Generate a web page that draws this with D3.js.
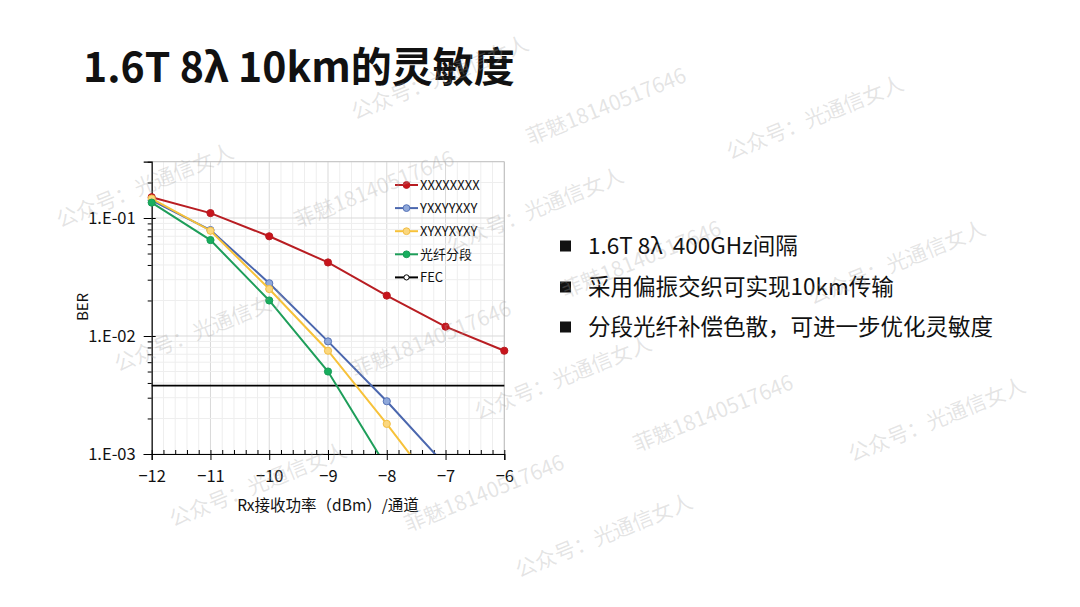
<!DOCTYPE html>
<html><head><meta charset="utf-8">
<script src="https://cdn.jsdelivr.net/npm/d3@7"></script>
<style>
html,body{margin:0;padding:0;background:#fff;}
svg{display:block;}
text{font-family:"Noto Sans CJK SC","Noto Sans",sans-serif;}
</style></head>
<body><svg id="c" width="1080" height="607"></svg>
<script>
// ---------------- data ----------------
const power = [-12, -11, -10, -9, -8, -7, -6];
const serX = [0.15, 0.11, 0.07, 0.042, 0.022, 0.012, 0.0075];          // XXXXXXXX
const serY = [0.141, 0.079, 0.028, 0.009, 0.0028, 0.0008];             // YXXYYXXY
const serXY = [0.146, 0.078, 0.025, 0.0075, 0.0018, 0.0004];           // XYXYXYXY
const serSeg = [0.135, 0.065, 0.02, 0.005, 0.00077];                   // 光纤分段
const fecLevel = 0.0038;
const seriesNames = ["XXXXXXXX", "YXXYYXXY", "XYXYXYXY", "光纤分段", "FEC"];
const xTickValues = [-12, -11, -10, -9, -8, -7, -6];
const yTickValues = [0.001, 0.01, 0.1];
const yTickLabels = ["1.E-03", "1.E-02", "1.E-01"];
const titleText = "1.6T 8λ 10km的灵敏度";
const bulletTexts = ["1.6T 8λ  400GHz间隔", "采用偏振交织可实现10km传输", "分段光纤补偿色散，可进一步优化灵敏度"];
const xTitle = "Rx接收功率（dBm）/通道";
const yTitle = "BER";
const wmA = "公众号：光通信女人";
const wmB = "菲魅18140517646";

// ---------------- layout ----------------
const svg = d3.select("#c");
const L = 151.7, R = 504.3, T = 161.7, B = 454;
const x = d3.scaleLinear().domain([-12, -6]).range([L, R]);
const y = d3.scaleLog().domain([0.001, 0.3]).range([B, T]);

svg.append("rect").attr("width", 1080).attr("height", 607).attr("fill", "#fff");

// title
svg.append("text").attr("x", 83).attr("y", 82).attr("font-size", 41).attr("font-weight", 700)
  .attr("fill", "#111").text(titleText);

// grid
const g = svg.append("g");
const minorX = d3.range(0, 31).map(i => -12 + i * 0.2);
g.selectAll("line.vx").data(minorX).join("line")
  .attr("x1", d => x(d)).attr("x2", d => x(d)).attr("y1", T).attr("y2", B)
  .attr("stroke", d => Math.abs(d - Math.round(d)) < 1e-6 ? "#d9d9d9" : "#eeeeee").attr("stroke-width", 1);
const minorY = [];
[0.001, 0.01, 0.1].forEach(dec => { for (let k = 1; k <= 9; k++) { const v = dec * k; if (v <= 0.3 + 1e-9) minorY.push(v); } });
g.selectAll("line.hy").data(minorY).join("line")
  .attr("x1", L).attr("x2", R).attr("y1", d => y(d)).attr("y2", d => y(d))
  .attr("stroke", d => yTickValues.some(t => Math.abs(t - d) < 1e-9) ? "#d9d9d9" : "#eeeeee").attr("stroke-width", 1);
// frame
svg.append("line").attr("x1", L).attr("x2", R).attr("y1", T).attr("y2", T).attr("stroke", "#bfbfbf");
svg.append("line").attr("x1", R).attr("x2", R).attr("y1", T).attr("y2", B).attr("stroke", "#bfbfbf");

// axes
const axisFont = 16.5;
const yAx = svg.append("g").attr("transform", `translate(${L},0)`)
  .call(d3.axisLeft(y).tickValues(yTickValues).tickSize(8).tickPadding(8)
    .tickFormat((d, i) => yTickLabels[i]));
const yMinor = minorY.filter(v => !yTickValues.some(t => Math.abs(t - v) < 1e-9));
svg.append("g").attr("transform", `translate(${L},0)`)
  .call(d3.axisLeft(y).tickValues(yMinor).tickSize(4).tickFormat(""))
  .call(s => s.select(".domain").remove());
svg.append("g").attr("transform", `translate(${L},0)`)
  .call(d3.axisRight(y).tickValues(yTickValues).tickSize(4).tickFormat(""))
  .call(s => s.select(".domain").remove());

const xAx = svg.append("g").attr("transform", `translate(0,${B})`)
  .call(d3.axisBottom(x).tickValues(xTickValues).tickSize(6).tickPadding(10).tickFormat(d3.format("d")));
svg.append("g").attr("transform", `translate(0,${B})`)
  .call(d3.axisTop(x).tickValues(minorX).tickSize(4).tickFormat(""))
  .call(s => s.select(".domain").remove());
svg.selectAll(".tick line, .domain").attr("stroke", "#000").attr("stroke-width", 1);
[yAx, xAx].forEach(a => a.selectAll("text").attr("font-size", axisFont).attr("fill", "#111")
  .attr("font-family", '"Noto Sans CJK SC","Noto Sans",sans-serif'));
yAx.selectAll(".domain").attr("stroke-width", 1.2);
xAx.selectAll(".domain").attr("stroke-width", 1.2);

// axis titles
svg.append("text").attr("transform", `translate(88,307) rotate(-90)`).attr("text-anchor", "middle")
  .attr("font-size", 15).attr("fill", "#111").text(yTitle);
svg.append("text").attr("x", 328).attr("y", 511).attr("text-anchor", "middle")
  .attr("font-size", 15.5).attr("fill", "#111").text(xTitle);

// series
svg.append("clipPath").attr("id", "clip").append("rect").attr("x", L - 10).attr("y", T - 10).attr("width", R - L + 20).attr("height", B - T + 10);
const styles = [
  { vals: serX, line: "#B81D22", fill: "#C8141C", stroke: "#B81D22" },
  { vals: serY, line: "#4B67AE", fill: "#8FA8DA", stroke: "#5673B8" },
  { vals: serXY, line: "#F7C23A", fill: "#FBD77E", stroke: "#F2BE45" },
  { vals: serSeg, line: "#1E9E5A", fill: "#17AE5E", stroke: "#189C55" }
];
const lineGen = d3.line().x(d => x(d[0])).y(d => y(d[1]));
const plot = svg.append("g").attr("clip-path", "url(#clip)");
// FEC line
plot.append("path").datum([[-12, fecLevel], [-6, fecLevel]]).attr("d", lineGen)
  .attr("stroke", "#000").attr("stroke-width", 1.6).attr("fill", "none");
styles.forEach(s => {
  const pts = s.vals.map((v, i) => [power[i], v]);
  plot.append("path").datum(pts).attr("d", lineGen).attr("fill", "none")
    .attr("stroke", s.line).attr("stroke-width", 2);
  plot.selectAll(null).data(pts.filter(p => p[1] >= 0.001)).join("circle")
    .attr("cx", d => x(d[0])).attr("cy", d => y(d[1])).attr("r", 3.6)
    .attr("fill", s.fill).attr("stroke", s.stroke).attr("stroke-width", 1);
});

// legend
const leg = svg.append("g");
const legY0 = 185, legDy = 23.1;
seriesNames.forEach((name, i) => {
  const yy = legY0 + i * legDy;
  const st = i < 4 ? styles[i] : { line: "#000", fill: "#fff", stroke: "#000" };
  leg.append("line").attr("x1", 395).attr("x2", 418).attr("y1", yy).attr("y2", yy)
    .attr("stroke", st.line).attr("stroke-width", 2);
  leg.append("circle").attr("cx", 406.5).attr("cy", yy).attr("r", i < 4 ? 3.4 : 2.6)
    .attr("fill", st.fill).attr("stroke", st.stroke).attr("stroke-width", 1);
  leg.append("text").attr("x", 420).attr("y", yy).attr("dy", "0.35em").attr("font-size", 13)
    .attr("fill", "#111").text(name);
});

// bullets
const bulletY = [246, 287, 327];
bulletTexts.forEach((t, i) => {
  svg.append("rect").attr("x", 560).attr("y", bulletY[i] - 5.5).attr("width", 11).attr("height", 11).attr("fill", "#111");
  svg.append("text").attr("x", 588).attr("y", bulletY[i]).attr("dy", "0.36em").attr("font-size", 22.5)
    .style("white-space", "pre").attr("fill", "#111").text(t);
});

// watermarks
const wmPos = [
  [355, 120, wmA], [530, 145, wmB], [730, 160, wmA],
  [60, 228, wmA], [298, 228, wmB], [450, 252, wmA], [565, 298, wmB], [812, 305, wmA],
  [118, 372, wmA], [355, 378, wmB], [478, 420, wmA], [637, 452, wmB], [852, 462, wmA],
  [173, 527, wmA], [408, 532, wmB], [519, 578, wmA]
];
svg.append("g").selectAll("text").data(wmPos).join("text")
  .attr("transform", d => `translate(${d[0]},${d[1]}) rotate(-22)`)
  .attr("font-size", 21).attr("fill", "#a0a0a0").attr("fill-opacity", 0.28)
  .attr("font-family", '"Liberation Serif","DejaVu Serif","Noto Sans CJK SC",serif')
  .text(d => d[2]);
</script></body></html>
